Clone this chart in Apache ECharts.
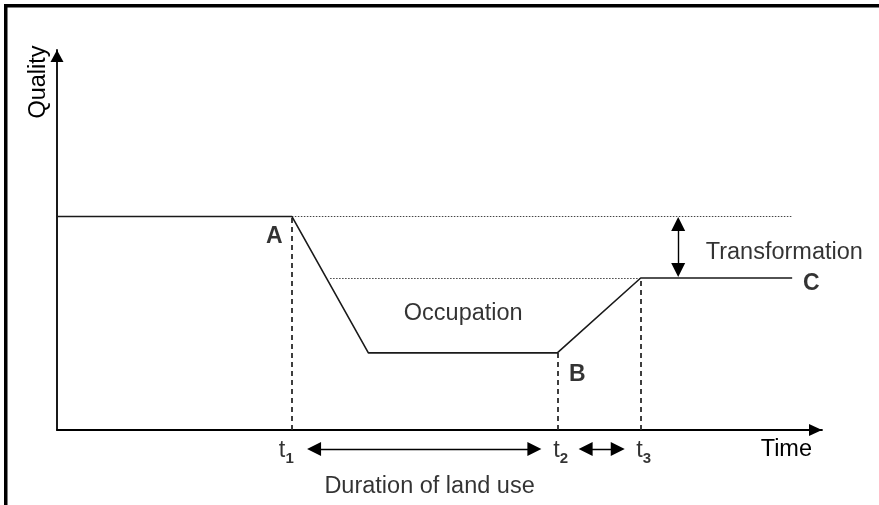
<!DOCTYPE html>
<html>
<head>
<meta charset="utf-8">
<script src="https://cdn.jsdelivr.net/npm/echarts@6/dist/echarts.min.js"></script>
<style>
  html, body { margin: 0; padding: 0; background: #fff; }
  #chart { width: 879px; height: 505px; }
</style>
</head>
<body>
<div id="chart"></div>
<script>
// quality curve (time and quality in arbitrary units, axes run 0-100)
const pathTime = [0, 30.7, 40.7, 65.4, 76.3, 96.1];
const pathQuality = [56.2, 56.2, 20.3, 20.3, 40.0, 40.0];

// t1, t2, t3 and the quality reached at each of them
const markNames = ['1', '2', '3'];
const markTime = [30.7, 65.4, 76.3];
const markQuality = [56.2, 20.3, 40.0];

// dotted reference levels
const levelQuality = [56.2, 40.0];
const levelFrom = [30.7, 35.7];
const levelTo = [96.1, 76.3];

// double arrows (ends = centres of the arrow heads)
const transformTime = 81.2;
const transformRange = [54.2, 42.1];
const durationQuality = -5.0;
const durationFrom = [33.6, 69.1];
const durationTo = [62.4, 73.3];

// text notes: time, quality, text
const noteTime = [28.4, 68.0, 98.6, 84.8, 53.1, 48.7];
const noteQuality = [50.8, 14.6, 38.4, 46.7, 30.7, -14.9];
const noteText = ['A', 'B', 'C', 'Transformation', 'Occupation', 'Duration of land use'];

const FONT = 'Liberation Sans, Arial, sans-serif';
const FS = 23.5;

let myChart = echarts.init(document.getElementById('chart'));

// little nudges so the t labels sit where they do in the drawing
const tShift = [-13, -4, -4.5];

let tLabels = markTime.map((t, i) => ({
  value: [t, 0],
  label: { offset: [tShift[i], 21] }
}));

let noteData = noteText.map((txt, i) => {
  let item = { value: [noteTime[i], noteQuality[i], txt] };
  if (txt.length === 1) {
    item.label = { fontWeight: 'bold', fontSize: 23 };
  } else if (txt === 'Transformation') {
    item.label = { align: 'left' };
  }
  return item;
});

let option = {
  animation: false,
  textStyle: { fontFamily: FONT },
  grid: { left: 57, right: 57, top: 50, bottom: 75 },
  xAxis: {
    type: 'value', min: 0, max: 100,
    axisLine: {
      lineStyle: { color: '#000', width: 1.8 },
      symbol: ['none', 'triangle'],
      symbolSize: [12, 13],
      symbolOffset: [0, -6.5]
    },
    axisTick: { show: false },
    axisLabel: { show: false },
    splitLine: { show: false }
  },
  yAxis: {
    type: 'value', min: 0, max: 100,
    axisLine: {
      show: true,
      lineStyle: { color: '#000', width: 1.8 },
      symbol: ['none', 'triangle'],
      symbolSize: [13, 12],
      symbolOffset: [0, -6]
    },
    axisTick: { show: false },
    axisLabel: { show: false },
    splitLine: { show: false }
  },
  graphic: [
    // frame (only top and left edges are in view)
    {
      type: 'rect', silent: true,
      shape: { x: 5.75, y: 5.75, width: 2000, height: 2000 },
      style: { fill: 'none', stroke: '#000', lineWidth: 3.5 }
    },
    {
      type: 'text', x: 39, y: 82, rotation: Math.PI / 2,
      style: { text: 'Quality', font: FS + 'px ' + FONT, fill: '#000', align: 'center', verticalAlign: 'middle' }
    },
    {
      type: 'text', x: 812, y: 450,
      style: { text: 'Time', font: FS + 'px ' + FONT, fill: '#000', align: 'right', verticalAlign: 'middle' }
    }
  ],
  series: [
    {
      name: 'quality',
      type: 'line',
      data: pathTime.map((t, i) => [t, pathQuality[i]]),
      symbol: 'none',
      lineStyle: { color: '#1a1a1a', width: 1.6 },
      z: 4
    },
    {
      name: 'levels',
      type: 'lines',
      coordinateSystem: 'cartesian2d',
      clip: false,
      data: levelQuality.map((q, i) => ({ coords: [[levelFrom[i], q], [levelTo[i], q]] })),
      lineStyle: { color: '#444', width: 1, type: [1.5, 1.5], opacity: 1 },
      z: 2
    },
    {
      name: 'marks',
      type: 'lines',
      coordinateSystem: 'cartesian2d',
      clip: false,
      data: markTime.map((t, i) => ({ coords: [[t, 0], [t, markQuality[i]]] })),
      lineStyle: { color: '#2a2a2a', width: 1.8, type: [5, 4], opacity: 1 },
      z: 3
    },
    {
      name: 'arrows',
      type: 'lines',
      coordinateSystem: 'cartesian2d',
      clip: false,
      symbol: ['triangle', 'triangle'],
      symbolSize: 14,
      data: [{ coords: [[transformTime, transformRange[0]], [transformTime, transformRange[1]]] }]
        .concat(durationFrom.map((t, i) => ({ coords: [[t, durationQuality], [durationTo[i], durationQuality]] }))),
      lineStyle: { color: '#000', width: 1.4, opacity: 1 },
      z: 5
    },
    {
      name: 'tLabels',
      type: 'scatter',
      clip: false,
      symbolSize: 0,
      silent: true,
      data: tLabels,
      label: {
        show: true,
        position: 'inside',
        align: 'left',
        verticalAlign: 'middle',
        formatter: p => '{t|t}{s|' + markNames[p.dataIndex] + '}',
        rich: {
          t: { fontSize: FS, fontFamily: FONT, color: '#000', lineHeight: 30, verticalAlign: 'middle' },
          s: { fontSize: 15, fontFamily: FONT, fontWeight: 'bold', color: '#000', lineHeight: 16, verticalAlign: 'bottom' }
        }
      }
    },
    {
      name: 'notes',
      type: 'scatter',
      clip: false,
      symbolSize: 0,
      silent: true,
      data: noteData,
      label: {
        show: true,
        position: 'inside',
        align: 'center',
        verticalAlign: 'middle',
        fontSize: FS,
        fontFamily: FONT,
        color: '#000',
        formatter: p => p.data.value[2]
      }
    }
  ]
};

myChart.setOption(option);
</script>
</body>
</html>
